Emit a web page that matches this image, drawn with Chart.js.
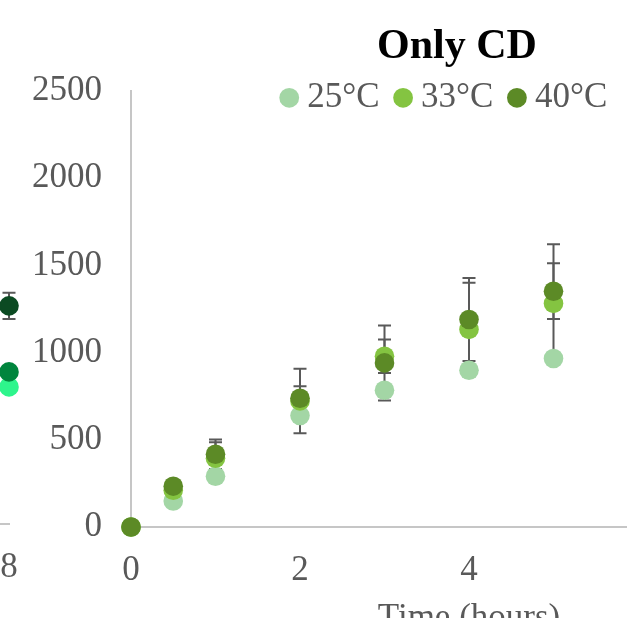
<!DOCTYPE html>
<html>
<head>
<meta charset="utf-8">
<script src="https://cdn.jsdelivr.net/npm/chart.js@4"></script>
<style>
  html, body { margin: 0; background: #fff; }
  #frame { position: relative; width: 627px; height: 618px; overflow: hidden; }
  #prev { position: absolute; left: -798px; top: -3px; }
  #main { position: absolute; left: 0; top: 0; }
</style>
</head>
<body>
<div id="frame">
  <canvas id="prev" width="900" height="653"></canvas>
  <canvas id="main" width="900" height="653"></canvas>
</div>
<script>
// "Only CD" panel
const hours = [0, 0.5, 1, 2, 3, 4, 5];
const cd25 = [0, 149, 291, 639, 784, 899, 966];
const cd33 = [0, 211, 394, 723, 979, 1133, 1282];
const cd40 = [0, 234, 417, 738, 941, 1190, 1352];
const cd33Err = [0, 0, 92, 185, 96, 268, 340];
const cd40Err = [0, 0, 85, 69, 215, 238, 160];

// right edge of the neighbouring panel (only its last time point shows)
const prevHours = [8];
const prev25 = [786];
const prev33 = [872];
const prev40 = [1251];
const prev40Err = [75];

const xTicks = [0, 2, 4, 6, 8];
const yTicks = [0, 500, 1000, 1500, 2000, 2500];

Chart.defaults.font.family = "'Liberation Serif', 'Times New Roman', serif";
Chart.defaults.color = '#595959';

const pts = (xs, ys) => xs.map((x, i) => ({x: x, y: ys[i]}));

// error bars go under the markers, like in the spreadsheet
const errorBars = {
  id: 'errorBars',
  beforeDatasetsDraw(chart) {
    const {ctx, scales: {x, y}} = chart;
    ctx.save();
    ctx.strokeStyle = '#595959';
    ctx.lineWidth = 2;
    chart.data.datasets.forEach(ds => {
      if (!ds.err) return;
      ds.data.forEach((p, i) => {
        const e = ds.err[i];
        if (!e) return;
        const px = x.getPixelForValue(p.x);
        const top = y.getPixelForValue(p.y + e);
        const bot = y.getPixelForValue(p.y - e);
        ctx.beginPath();
        ctx.moveTo(px, top); ctx.lineTo(px, bot);
        ctx.moveTo(px - 6.5, top); ctx.lineTo(px + 6.5, top);
        ctx.moveTo(px - 6.5, bot); ctx.lineTo(px + 6.5, bot);
        ctx.stroke();
      });
    });
    ctx.restore();
  }
};

// header and key sit a bit right of the plot centre, and the key hangs
// down over the top of the plot
const offCentre = {
  id: 'offCentre',
  afterLayout(chart, args, opts) {
    const shift = (box, dx) => { if (box) { box.left += dx; box.right += dx; } };
    shift(chart.titleBlock, opts.title || 0);
    shift(chart.legend, opts.legend || 0);
    if (chart.legend) {
      chart.legend.bottom += opts.overlap || 0;
      chart.legend.height += opts.overlap || 0;
    }
  }
};

function series(label, xs, ys, color, order, err) {
  return {
    label: label,
    data: pts(xs, ys),
    err: err,
    order: order,
    backgroundColor: color,
    borderColor: color,
    pointRadius: 9.8,
    pointHoverRadius: 9.8,
    pointBorderWidth: 0,
    pointStyle: 'circle',
    showLine: false,
    clip: false
  };
}

function axes() {
  const axisLine = {color: '#c6c6c6', width: 2};
  return {
    x: {
      type: 'linear', min: 0, max: 8,
      afterBuildTicks: s => { s.ticks = xTicks.map(v => ({value: v})); },
      grid: {display: false, drawTicks: false},
      border: axisLine,
      ticks: {font: {size: 35}, padding: 23, color: '#595959', callback: v => String(v)},
      title: {display: true, text: 'Time (hours)', color: '#595959', font: {size: 35}, padding: {top: -17, bottom: 4}}
    },
    y: {
      type: 'linear', min: 0, max: 2500,
      afterBuildTicks: s => { s.ticks = yTicks.map(v => ({value: v})); },
      grid: {display: false, drawTicks: false},
      border: axisLine,
      ticks: {font: {size: 35}, padding: 29, color: '#595959', callback: v => String(v)}
    }
  };
}

new Chart(document.getElementById('prev'), {
  type: 'scatter',
  data: {
    datasets: [
      series('25°C', prevHours, prev25, '#2ef58c', 3),
      series('33°C', prevHours, prev33, '#00853d', 2),
      series('40°C', prevHours, prev40, '#0b4a22', 1, prev40Err)
    ]
  },
  options: {
    responsive: false,
    animation: false,
    layout: {padding: {left: 3, top: 91, right: 93, bottom: 9}},
    scales: axes(),
    plugins: {legend: {display: false}, title: {display: false}, tooltip: {enabled: false}}
  },
  plugins: [errorBars]
});

new Chart(document.getElementById('main'), {
  type: 'scatter',
  data: {
    datasets: [
      series('25°C', hours, cd25, '#a3d6a5', 3),
      series('33°C', hours, cd33, '#84c441', 2, cd33Err),
      series('40°C', hours, cd40, '#5c8a26', 1, cd40Err)
    ]
  },
  options: {
    responsive: false,
    animation: false,
    layout: {padding: {left: 3, top: 0, right: 93, bottom: 9}},
    scales: axes(),
    plugins: {
      title: {
        display: true,
        text: 'Only CD',
        color: '#000',
        font: {size: 42, weight: 'bold', lineHeight: 0.96},
        padding: {top: 27, bottom: -10}
      },
      legend: {
        reverse: true,
        maxHeight: 33.7,
        labels: {
          usePointStyle: true,
          pointStyle: 'circle',
          boxWidth: 1,
          boxHeight: 14,
          padding: 23,
          color: '#595959',
          font: {size: 35}
        }
      },
      tooltip: {enabled: false},
      offCentre: {title: 52, legend: 43, overlap: 40}
    }
  },
  plugins: [errorBars, offCentre]
});
</script>
</body>
</html>
